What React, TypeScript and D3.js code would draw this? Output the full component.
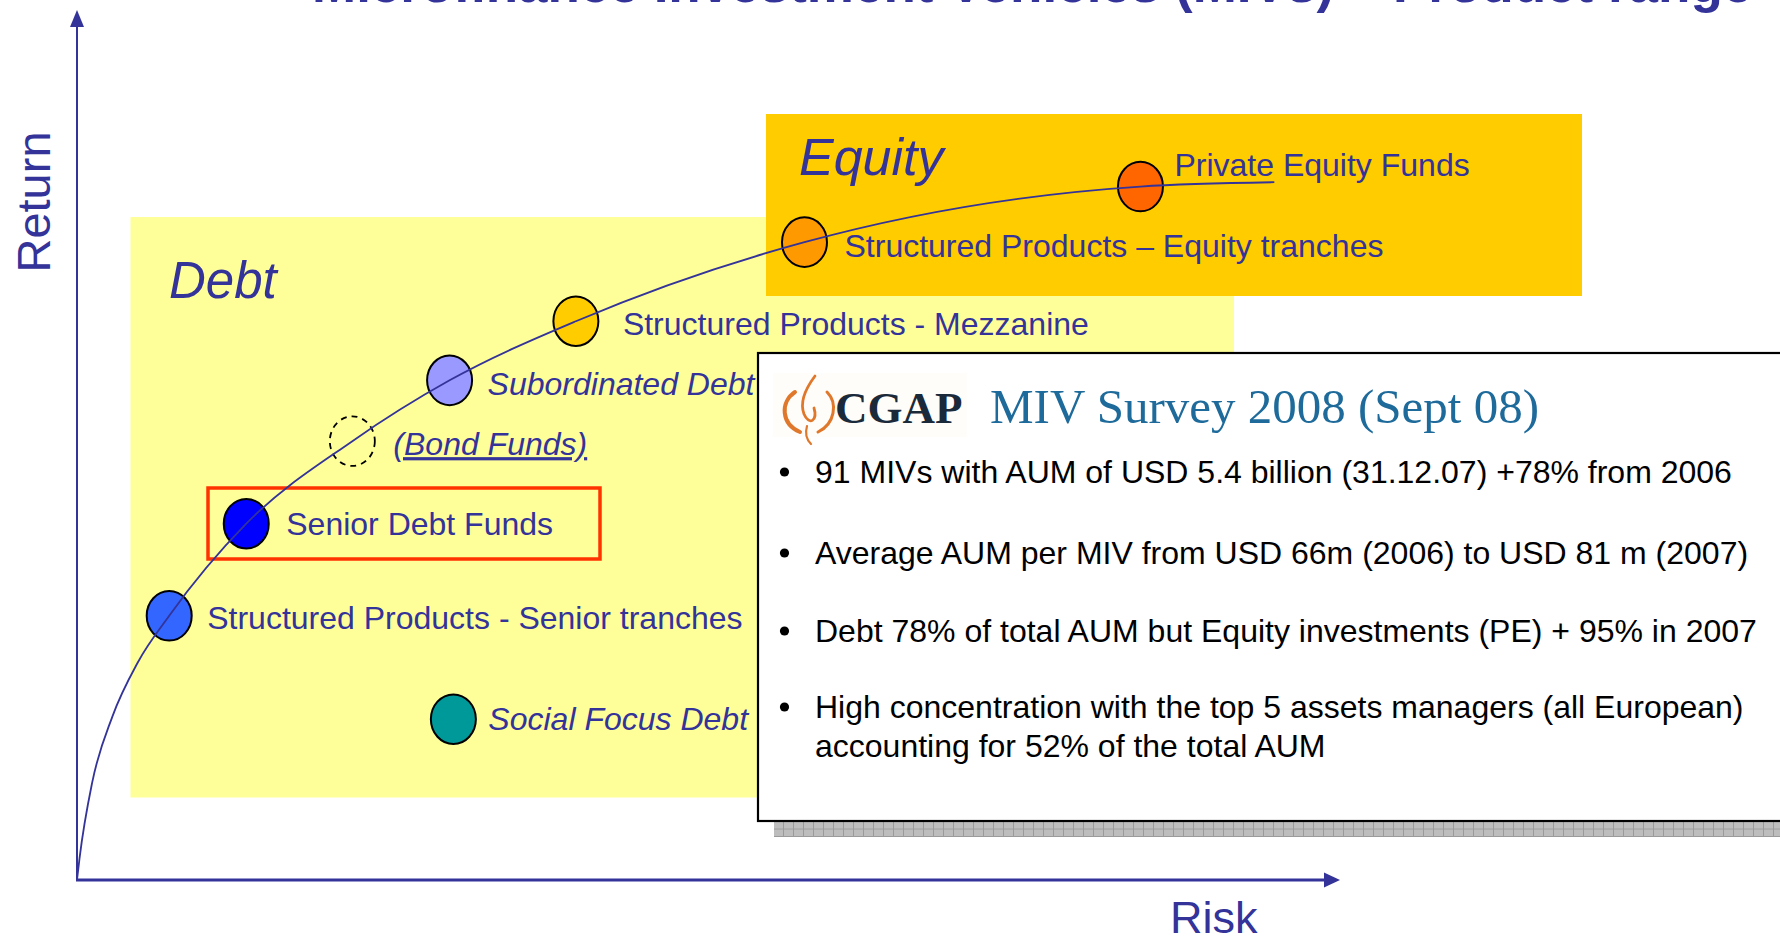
import React from "react";
import * as d3 from "d3";

// chart frame
const W = 1780;
const H = 938;
const BLUE = "#333399";

// product positions on the risk / return plane (0-10 conceptual units)
const products = [
  "Structured Products - Senior tranches",
  "Senior Debt Funds",
  "(Bond Funds)",
  "Subordinated Debt",
  "Structured Products - Mezzanine",
  "Structured Products – Equity tranches",
  "Private Equity Funds",
  "Social Focus Debt",
];
const riskValues = [0.73, 1.34, 2.18, 2.95, 3.95, 5.76, 8.42, 2.98];
const returnValues = [3.04, 4.1, 5.05, 5.75, 6.43, 7.34, 7.98, 1.85];

// risk/return frontier drawn through the products
const curveRisk = [0, 0.02, 0.12, 0.28, 0.48, 0.73, 1.34, 2.18, 2.95, 3.95, 5.76, 8.42, 9.48];
const curveReturn = [0, 0.25, 1.12, 1.88, 2.5, 3.04, 4.1, 5.05, 5.75, 6.43, 7.34, 7.98, 8.03];

// box text
const surveyTitle = "MIV Survey 2008 (Sept 08)";
const bullets = [
  ["91 MIVs with AUM of USD 5.4 billion (31.12.07) +78% from 2006"],
  ["Average AUM per MIV from USD 66m (2006) to USD 81 m (2007)"],
  ["Debt 78% of total AUM but Equity investments (PE) + 95% in 2007"],
  ["High concentration with the top 5 assets managers (all European)", "accounting for 52% of the total AUM"],
];
const bulletBaselines = [483, 564, 642, 718];

// marker styles, one per product
const markerFill = ["#3366FF", "#0000FF", "none", "#9999FF", "#FFCC00", "#FF9900", "#FF6600", "#009999"];
const labelItalic = [false, false, true, true, false, false, false, true];
const labelDx = [38, 40, 41, 38, 47, 40, 34, 35];
const labelDy = [13, 11, 14, 14.5, 14, 14.5, -10.5, 11];

const sans = "'Liberation Sans', Arial, Helvetica, sans-serif";
const serif = "'Liberation Serif', 'Times New Roman', serif";

export default function App() {
  const x = d3.scaleLinear().domain([0, 10]).range([77, 1340]);
  const y = d3.scaleLinear().domain([0, 10]).range([880, 11]);

  const curvePts = curveRisk.map((r, i) => [x(r), y(curveReturn[i])] as [number, number]);
  const line = d3.line().curve(d3.curveMonotoneX)(curvePts) || "";

  const x0 = x(0), y0 = y(0), xEnd = x(10), yEnd = y(10);

  return (
    <svg
      width={W}
      height={H}
      style={{ position: "absolute", left: 0, top: 0, display: "block", background: "#fff" }}
    >
      <defs>
        <pattern id="shadowGrid" width="10" height="7.5" patternUnits="userSpaceOnUse" x="774" y="822">
          <rect width="10" height="7.5" fill="#BDBDBD" />
          <path d="M 9.5 0 V 7.5 M 0 7 H 10" stroke="#9A9A9A" strokeWidth="1" />
        </pattern>
      </defs>

      {/* title, cut at the top of the slide */}
      <text x={312} y={2} fill={BLUE} fontFamily={sans} fontWeight="bold" fontSize={53}>
        Microfinance Investment Vehicles (MIVs) – Product range
      </text>

      {/* debt / equity zones */}
      <rect x={130.5} y={217} width={1103.5} height={580.5} fill="#FFFF99" />
      <rect x={766} y={114} width={816} height={182} fill="#FFCC00" />
      <text x={169} y={298} fill={BLUE} fontFamily={sans} fontStyle="italic" fontSize={51}>Debt</text>
      <text x={799} y={175} fill={BLUE} fontFamily={sans} fontStyle="italic" fontSize={52}>Equity</text>

      {/* highlight on senior debt funds */}
      <rect x={208} y={488} width={392} height={71} fill="none" stroke="#FF3300" strokeWidth={3.5} />

      {/* axes */}
      <line x1={x0} y1={y0} x2={x0} y2={yEnd + 14} stroke={BLUE} strokeWidth={2} />
      <path d={`M ${x0} ${yEnd - 1} L ${x0 - 7} ${yEnd + 16} L ${x0 + 7} ${yEnd + 16} Z`} fill={BLUE} />
      <line x1={x0 - 1} y1={y0} x2={xEnd - 14} y2={y0} stroke={BLUE} strokeWidth={3} />
      <path d={`M ${xEnd} ${y0} L ${xEnd - 16} ${y0 - 7.5} L ${xEnd - 16} ${y0 + 7.5} Z`} fill={BLUE} />
      <text
        transform={`translate(50, 202) rotate(-90)`}
        textAnchor="middle"
        fill={BLUE}
        fontFamily={sans}
        fontSize={47}
      >
        Return
      </text>
      <text x={1170} y={933} fill={BLUE} fontFamily={sans} fontSize={45}>Risk</text>

      {/* product markers */}
      {products.map((p, i) => (
        <ellipse
          key={"m" + i}
          cx={x(riskValues[i])}
          cy={y(returnValues[i])}
          rx={22.5}
          ry={24.8}
          fill={markerFill[i]}
          stroke="#000"
          strokeWidth={markerFill[i] === "none" ? 1.8 : 2}
          strokeDasharray={markerFill[i] === "none" ? "6 5" : undefined}
        />
      ))}

      {/* frontier */}
      <path d={line} fill="none" stroke={BLUE} strokeWidth={1.8} />

      {/* product labels */}
      {products.map((p, i) => (
        <text
          key={"l" + i}
          x={x(riskValues[i]) + labelDx[i]}
          y={y(returnValues[i]) + labelDy[i]}
          fill={BLUE}
          fontFamily={sans}
          fontSize={32}
          fontStyle={labelItalic[i] ? "italic" : "normal"}
          textDecoration={p.startsWith("(") ? "underline" : undefined}
        >
          {p}
        </text>
      ))}

      {/* survey box with shadow */}
      <rect x={774} y={368} width={1100} height={469} fill="url(#shadowGrid)" />
      <rect x={758} y={353} width={1100} height={468} fill="#fff" stroke="#000" strokeWidth={2.2} />

      {/* CGAP logo */}
      <rect x={773} y={373} width={194} height={64} fill="#FFFDF9" />
      <g fill="none" stroke="#E0782C" strokeLinecap="round">
        <path d="M 795 392 C 780 402, 781 424, 800 432" strokeWidth={4} />
        <path d="M 827 392 C 838 403, 835 424, 818 432" strokeWidth={3} />
        <path d="M 815 376 C 806 388, 799 401, 804 414 C 809 426, 818 421, 814 408" strokeWidth={2.8} />
        <path d="M 807 426 C 805 433, 806 439, 811 444" strokeWidth={2.2} />
      </g>
      <text x={835} y={423} fill="#1B2A3A" fontFamily={serif} fontWeight="bold" fontSize={45}>CGAP</text>
      <text x={990} y={423} fill="#1E6B9B" fontFamily={serif} fontSize={49}>{surveyTitle}</text>

      {bullets.map((lines, i) => (
        <g key={"b" + i}>
          <circle cx={784.5} cy={bulletBaselines[i] - 11} r={4.6} fill="#000" />
          {lines.map((t, j) => (
            <text
              key={j}
              x={815}
              y={bulletBaselines[i] + j * 39}
              fill="#000"
              fontFamily={sans}
              fontSize={32}
            >
              {t}
            </text>
          ))}
        </g>
      ))}
    </svg>
  );
}
